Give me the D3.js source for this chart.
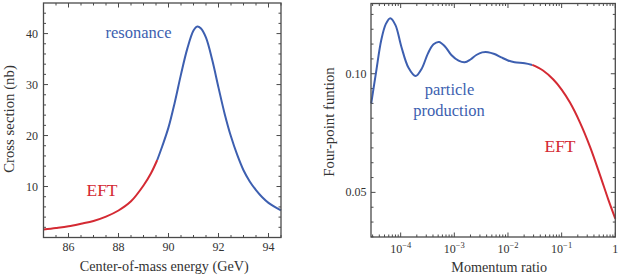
<!DOCTYPE html>
<html><head><meta charset="utf-8">
<script src="https://cdn.jsdelivr.net/npm/d3@7"></script>
<style>
body{margin:0;background:#fff;}
</style></head>
<body>
<svg id="c" width="622" height="277"></svg>
<script>
// ---------- Left panel data: cross section vs energy ----------
const eftEnergy = [85.0, 85.5, 86.0, 86.5, 87.0, 87.5, 88.0, 88.5, 89.0, 89.3, 89.55];
const eftSigma  = [1.55, 1.85, 2.2, 2.7, 3.25, 4.1, 5.3, 7.1, 10.2, 12.6, 15.2];
const resEnergy = [89.55, 89.75, 90.0, 90.25, 90.5, 90.75, 91.0, 91.15, 91.3, 91.5, 91.75, 92.0, 92.25, 92.5, 92.75, 93.0, 93.25, 93.5, 93.75, 94.0, 94.25, 94.5];
const resSigma  = [15.2, 17.9, 21.6, 26.5, 32.0, 37.0, 40.6, 41.4, 41.0, 39.2, 34.8, 29.4, 24.2, 19.8, 16.2, 13.2, 11.0, 9.3, 7.9, 6.8, 6.0, 5.3];
const leftXTicks = [86, 88, 90, 92, 94];
const leftYTicks = [10, 20, 30, 40];

// ---------- Right panel data: four-point function vs momentum ratio ----------
const ppRatio = [2.83e-5, 3.5e-5, 4.35e-5, 5.3e-5, 6.4e-5, 8.0e-5, 1.03e-4, 1.4e-4, 1.9e-4, 2.45e-4, 3.23e-4, 4.1e-4, 5.18e-4, 6.7e-4, 8.8e-4, 1.2e-3, 1.56e-3, 2.0e-3, 2.57e-3, 3.3e-3, 4.24e-3, 5.6e-3, 7.5e-3, 1.0e-2, 1.33e-2, 2.05e-2, 2.84e-2];
const ppValue = [0.0875, 0.1010, 0.1142, 0.1210, 0.1234, 0.1205, 0.1114, 0.1025, 0.0990, 0.1020, 0.1086, 0.1124, 0.1134, 0.1115, 0.1079, 0.1055, 0.1048, 0.1060, 0.1079, 0.1090, 0.1091, 0.1083, 0.1069, 0.1056, 0.1048, 0.1044, 0.1037];
const eftRatio = [2.84e-2, 4.5e-2, 7.0e-2, 0.1, 0.143, 0.22, 0.337, 0.519, 0.741, 1.0];
const eftValue = [0.1037, 0.10135, 0.09755, 0.09334, 0.08786, 0.07943, 0.06931, 0.05729, 0.04697, 0.03895];
const rightXTicks = [1e-4, 1e-3, 1e-2, 1e-1, 1];
const rightXLabels = [["10","\u22124"],["10","\u22123"],["10","\u22122"],["10","\u22121"],["1",""]];
const rightYTicks = [0.05, 0.10];
const rightYLabels = ["0.05", "0.10"];

const BLUE = "#3d5fb0", RED = "#d42a33", FRAME = "#4a4a4a", TXT = "#333";
const FONT = '"Liberation Serif"';
const svg = d3.select("#c");

function frame(g, x0, x1, y0, y1){
  g.append("rect").attr("x",x0).attr("y",y1).attr("width",x1-x0).attr("height",y0-y1)
   .attr("fill","none").attr("stroke",FRAME).attr("stroke-width",1.3);
}
function ticksX(g, x, vals, y0, y1, len){
  g.selectAll(null).data(vals).join("line")
    .attr("x1",d=>x(d)).attr("x2",d=>x(d)).attr("y1",y0).attr("y2",y0-len)
    .attr("stroke",FRAME).attr("stroke-width",1);
  g.selectAll(null).data(vals).join("line")
    .attr("x1",d=>x(d)).attr("x2",d=>x(d)).attr("y1",y1).attr("y2",y1+len)
    .attr("stroke",FRAME).attr("stroke-width",1);
}
function ticksY(g, y, vals, x0, x1, len){
  g.selectAll(null).data(vals).join("line")
    .attr("y1",d=>y(d)).attr("y2",d=>y(d)).attr("x1",x0).attr("x2",x0+len)
    .attr("stroke",FRAME).attr("stroke-width",1);
  g.selectAll(null).data(vals).join("line")
    .attr("y1",d=>y(d)).attr("y2",d=>y(d)).attr("x1",x1).attr("x2",x1-len)
    .attr("stroke",FRAME).attr("stroke-width",1);
}

// ================= LEFT PANEL =================
{
  const L = 43.5, R = 281, T = 3, B = 237.5;
  const x = d3.scaleLinear().domain([85, 94.5]).range([L, R]);
  const y = d3.scaleLinear().domain([0, 46]).range([B, T]);
  const g = svg.append("g");
  const minorX = d3.range(85, 94.51, 0.5).filter(v => !leftXTicks.includes(v));
  const minorY = d3.range(0, 46.1, 2).filter(v => !leftYTicks.includes(v) && v>0 && v<46);
  ticksX(g, x, minorX, B, T, 2.5);
  ticksX(g, x, leftXTicks, B, T, 4.5);
  ticksY(g, y, minorY, L, R, 2.5);
  ticksY(g, y, leftYTicks, L, R, 4.5);

  const line = d3.line().curve(d3.curveCatmullRom.alpha(0.5)).x(d=>x(d[0])).y(d=>y(d[1]));
  g.append("path").datum(d3.zip(eftEnergy, eftSigma)).attr("d", line)
    .attr("fill","none").attr("stroke",RED).attr("stroke-width",2);
  g.append("path").datum(d3.zip(resEnergy, resSigma)).attr("d", line)
    .attr("fill","none").attr("stroke",BLUE).attr("stroke-width",2);
  frame(g, L, R, B, T);

  g.selectAll(null).data(leftXTicks).join("text")
    .attr("x",d=>x(d)).attr("y",251).attr("text-anchor","middle")
    .attr("font-size",12).attr("fill",TXT).text(d=>d);
  g.selectAll(null).data(leftYTicks).join("text")
    .attr("x",38).attr("y",d=>y(d)+4).attr("text-anchor","end")
    .attr("font-size",12).attr("fill",TXT).text(d=>d);

  g.append("text").attr("x",(L+R)/2+2).attr("y",270.5).attr("text-anchor","middle")
    .attr("font-size",14.2).attr("fill",TXT).text("Center-of-mass energy (GeV)");
  g.append("text").attr("transform","translate(14,119) rotate(-90)").attr("text-anchor","middle")
    .attr("font-size",14.8).attr("fill",TXT).text("Cross section (nb)");

  g.append("text").attr("x",138.5).attr("y",37.5).attr("text-anchor","middle")
    .attr("font-size",16.5).attr("fill",BLUE).text("resonance");
  g.append("text").attr("x",102).attr("y",195.5).attr("text-anchor","middle")
    .attr("font-size",17.5).attr("fill",RED).text("EFT");
}

// ================= RIGHT PANEL =================
{
  const L = 371, R = 615.3, T = 3.5, B = 237;
  const x = d3.scaleLog().domain([2.8e-5, 1]).range([L, R]);
  const y = d3.scaleLinear().domain([0.0312, 0.1296]).range([B, T]);
  const g = svg.append("g");
  const minorX = [];
  [-5,-4,-3,-2,-1].forEach(p => { for (let k=2;k<=9;k++){ const v=k*Math.pow(10,p); if (v>=2.8e-5 && v<1) minorX.push(v);} });
  const minorY = d3.range(0,16).map(i => 0.03125 + i*0.00625)
    .filter(v => v>0.0312 && v<0.1296 && Math.abs(v-0.05)>1e-6 && Math.abs(v-0.1)>1e-6);
  ticksX(g, x, minorX, B, T, 2.5);
  ticksX(g, x, rightXTicks, B, T, 4.5);
  ticksY(g, y, minorY, L, R, 2.5);
  ticksY(g, y, rightYTicks, L, R, 4.5);

  const line = d3.line().curve(d3.curveCatmullRom.alpha(0.5)).x(d=>x(d[0])).y(d=>y(d[1]));
  g.append("path").datum(d3.zip(ppRatio, ppValue)).attr("d", line)
    .attr("fill","none").attr("stroke",BLUE).attr("stroke-width",2);
  g.append("path").datum(d3.zip(eftRatio, eftValue)).attr("d", line)
    .attr("fill","none").attr("stroke",RED).attr("stroke-width",2);
  frame(g, L, R, B, T);

  const xl = g.selectAll(null).data(d3.zip(rightXTicks, rightXLabels)).join("text")
    .attr("x",d=>x(d[0])).attr("y",252.5).attr("text-anchor","middle")
    .attr("font-size",12).attr("fill",TXT);
  xl.append("tspan").text(d=>d[1][0]);
  xl.append("tspan").attr("dy",-5).attr("font-size",8.5).text(d=>d[1][1]);

  g.selectAll(null).data(d3.zip(rightYTicks, rightYLabels)).join("text")
    .attr("x",366.5).attr("y",d=>y(d[0])+4).attr("text-anchor","end")
    .attr("font-size",12).attr("fill",TXT).text(d=>d[1]);

  g.append("text").attr("x",(L+R)/2+6).attr("y",272).attr("text-anchor","middle")
    .attr("font-size",14.2).attr("fill",TXT).text("Momentum ratio");
  g.append("text").attr("transform","translate(334,122) rotate(-90)").attr("text-anchor","middle")
    .attr("font-size",14.8).attr("fill",TXT).text("Four-point funtion");

  g.append("text").attr("x",449.5).attr("y",95).attr("text-anchor","middle")
    .attr("font-size",16.5).attr("fill",BLUE).text("particle");
  g.append("text").attr("x",449).attr("y",115.5).attr("text-anchor","middle")
    .attr("font-size",16.5).attr("fill",BLUE).text("production");
  g.append("text").attr("x",560).attr("y",152).attr("text-anchor","middle")
    .attr("font-size",17.5).attr("fill",RED).text("EFT");
}
svg.selectAll("text").attr("font-family", FONT).style("font-family", FONT);
</script>
</body></html>
